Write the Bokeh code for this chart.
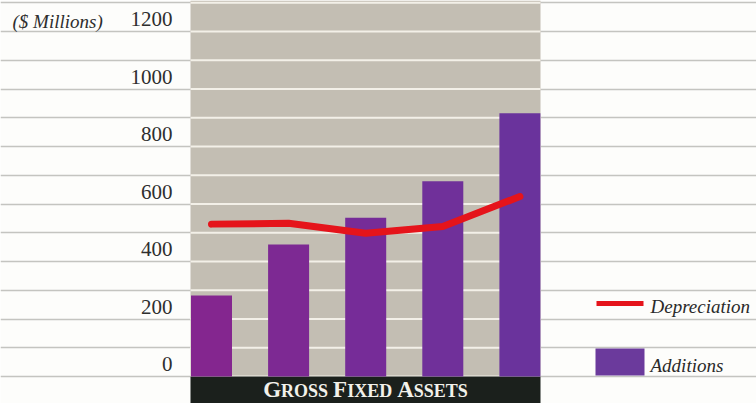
from bokeh.plotting import figure
from bokeh.models import Range1d
from bokeh.core.properties import value
from bokeh.embed import file_html
from bokeh.resources import INLINE

# ---- data ----
periods = [0, 1, 2, 3, 4]                      # five (unlabelled) years
additions = [282, 459, 552, 679, 916]          # $ millions
depreciation = [530, 533, 498, 522, 626]       # $ millions
tick_values = [0, 200, 400, 600, 800, 1000, 1200]
tick_labels = ["0", "200", "400", "600", "800", "1000", "1200"]
grid_values = list(range(0, 1400, 100))
unit_label = "($ Millions)"
title_words = ["GROSS", "FIXED", "ASSETS"]
legend_labels = ["Depreciation", "Additions"]

W, H = 756, 403
px0, px_step = 211.0, 77.1     # pixel centre of first bar, pixel spacing
py0, py_scale = 376.0, 0.2875  # pixel of value 0, pixels per unit

x_lo = (0 - px0) / px_step
x_hi = (W - px0) / px_step
y_hi = (py0 - 0) / py_scale
y_lo = (py0 - H) / py_scale

BG = "#fdfdfb"
PANEL = "#c3beb3"
FONT = value("Liberation Serif")
MID = 0.34  # baseline offset below the em-box middle, in em

p = figure(width=W, height=H, x_range=Range1d(x_lo, x_hi), y_range=Range1d(y_lo, y_hi),
           min_border=0, toolbar_location=None, x_axis_location=None, y_axis_location=None,
           output_backend="svg", background_fill_color=BG, border_fill_color=BG,
           outline_line_color=None)
p.grid.visible = False
p.extra_x_ranges = {"px": Range1d(0, W)}
p.extra_y_ranges = {"py": Range1d(H, 0)}

# full width grid lines
p.hspan(y=grid_values, line_color="#c4c4c0", line_width=1.5)

# grey panel behind bars
pl, pr = 190, 540
p.quad(left=[pl], right=[pr], top=[0], bottom=[py0], fill_color=PANEL, line_color=None,
       x_range_name="px", y_range_name="py")
p.segment(x0=[pl] * len(grid_values), x1=[pr] * len(grid_values), y0=grid_values, y1=grid_values,
          line_color="#f3f0e8", line_width=2.2, x_range_name="px")

# black band
p.quad(left=[pl], right=[pr], top=[py0], bottom=[H], fill_color="#1b201c", line_color=None,
       x_range_name="px", y_range_name="py")

# bars
bar_colors = ["#84268f", "#7d2993", "#762c98", "#70309a", "#6a339c"]
p.vbar(x=periods, top=additions, width=41 / px_step, bottom=0, fill_color=bar_colors,
       line_color=None)

# depreciation line
p.line(x=periods, y=depreciation, line_color="#e5141b", line_width=7,
       line_join="round", line_cap="round")

# tick labels
tk = 21
p.text(x=[172] * len(tick_values), y=tick_values, text=tick_labels, text_font=FONT,
       text_font_size=f"{tk}px", text_color="#2e2e2e", text_align="right",
       text_baseline="middle", y_offset=-5 - MID * tk, x_range_name="px")
p.text(x=[12], y=[27 - MID * 19], text=[unit_label], text_font=FONT, text_font_size="19px",
       text_font_style="italic", text_color="#2e2e2e", text_baseline="middle",
       x_range_name="px", y_range_name="py")

# small-caps title in the band
em = dict(G=.778, R=.722, O=.778, S=.556, F=.611, I=.389, X=.722, E=.667, D=.722, A=.722, T=.667)
cap_sz, sc_sz, gap = 23, 18, 5
base = 397
def wlen(s, sz):
    return sum(em[c] for c in s) * sz
total = sum(wlen(w[0], cap_sz) + wlen(w[1:], sc_sz) for w in title_words) + gap * (len(title_words) - 1)
cx = (pl + pr) / 2
xs = cx - total / 2
cap_x, cap_t, sc_x, sc_t = [], [], [], []
for w in title_words:
    cap_x.append(xs); cap_t.append(w[0])
    xs += wlen(w[0], cap_sz)
    sc_x.append(xs); sc_t.append(w[1:])
    xs += wlen(w[1:], sc_sz) + gap
p.text(x=cap_x, y=[base - MID * cap_sz] * len(cap_x), text=cap_t, text_font=FONT,
       text_font_size=f"{cap_sz}px", text_font_style="bold", text_color="#f2f1ea",
       text_baseline="middle", x_range_name="px", y_range_name="py")
p.text(x=sc_x, y=[base - MID * sc_sz] * len(sc_x), text=sc_t, text_font=FONT,
       text_font_size=f"{sc_sz}px", text_font_style="bold", text_color="#f2f1ea",
       text_baseline="middle", x_range_name="px", y_range_name="py")

# legend
p.segment(x0=[596], x1=[643], y0=[303], y1=[303], line_color="#e5141b", line_width=5,
          x_range_name="px", y_range_name="py")
p.quad(left=[595], right=[644], top=[348], bottom=[375], fill_color="#6b3a9c", line_color=None,
       x_range_name="px", y_range_name="py")
p.text(x=[650, 650], y=[312 - MID * 19, 371 - MID * 19], text=legend_labels, text_font=FONT,
       text_font_size="19px", text_font_style="italic", text_color="#2a2a2a",
       text_baseline="middle", x_range_name="px", y_range_name="py")

open("out.html", "w").write(file_html(p, INLINE))
